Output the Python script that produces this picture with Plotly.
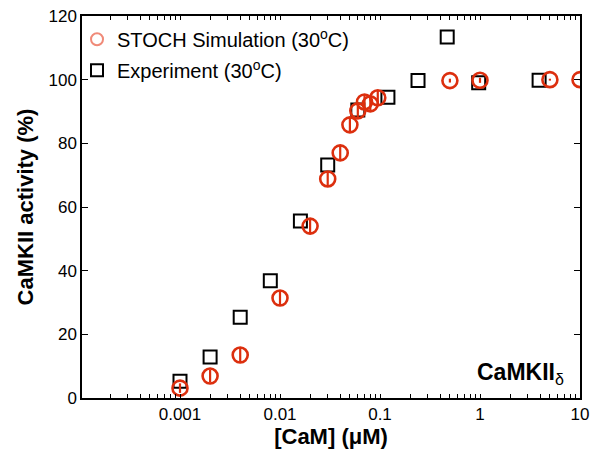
import plotly.graph_objects as go

# STOCH simulation (30 C)
sim_x = [0.001, 0.002, 0.004, 0.01, 0.02, 0.03, 0.04, 0.05, 0.06, 0.07, 0.08, 0.095, 0.5, 1, 5, 10]
sim_y = [3.1, 6.9, 13.5, 31.4, 54.0, 68.8, 77.0, 85.8, 90.2, 93.0, 92.4, 94.3, 99.7, 99.8, 100, 100]
sim_err = [1.5, 2.0, 2.2, 2.3, 2.3, 2.3, 2.3, 2.3, 2.3, 2.3, 2.3, 2.3, 0.6, 0.8, 0.3, 0.2]

# Experiment (30 C)
exp_x = [0.001, 0.002, 0.004, 0.008, 0.016, 0.03, 0.06, 0.12, 0.24, 0.47, 0.97, 3.9]
exp_y = [5.3, 12.9, 25.4, 36.8, 55.6, 73.2, 90.5, 94.5, 99.7, 113.4, 99.0, 99.8]

# axis ticks (majors labelled, minors unlabelled)
major_ticks = [0.001, 0.01, 0.1, 1, 10]
major_text = ["0.001", "0.01", "0.1", "1", "10"]
minor_ticks = [m * d for d in [0.0001, 0.001, 0.01, 0.1, 1] for m in range(2, 10)]
all_ticks = major_ticks + minor_ticks
all_text = major_text + [""] * len(minor_ticks)

RED = "#dc2f0e"
FONT = "Liberation Sans, Arial"

fig = go.Figure()
# legend-only entries
fig.add_trace(go.Scatter(x=[None], y=[None], mode="markers", name="STOCH Simulation (30<sup>o</sup>C)",
                         legendgroup="a",
                         marker=dict(symbol="circle-open", size=16, color="#f08a78", line=dict(width=1.2))))
fig.add_trace(go.Scatter(x=[None], y=[None], mode="markers", name="Experiment (30<sup>o</sup>C)",
                         legendgroup="b",
                         marker=dict(symbol="square-open", size=12, color="black", line=dict(width=1.6))))

fig.add_trace(go.Scatter(x=exp_x, y=exp_y, mode="markers", showlegend=False,
                         marker=dict(symbol="square-open", size=13, color="black", line=dict(width=2))))
fig.add_trace(go.Scatter(x=sim_x, y=sim_y, mode="markers", showlegend=False,
                         error_y=dict(type="data", array=sim_err, color=RED, thickness=2.2, width=0),
                         marker=dict(symbol="circle-open", size=15, color=RED, line=dict(width=2.6))))

axis_common = dict(showline=True, linecolor="black", linewidth=1.5, mirror="ticks",
                   ticks="inside", tickcolor="black", tickwidth=1, showgrid=False, zeroline=False,
                   automargin=False,
                   tickfont=dict(family=FONT, size=17, color="black"))

fig.update_xaxes(type="log", range=[-3.98, 1.0], tickmode="array", tickvals=all_ticks,
                 ticktext=all_text, ticklen=4,
                 title=dict(text="<b>[CaM] (μM)</b>", font=dict(family=FONT, size=22, color="black"), standoff=2),
                 **axis_common)
fig.update_yaxes(range=[0, 120], dtick=20, ticklen=6,
                 title=dict(text="<b>CaMKII activity (%)</b>", font=dict(family=FONT, size=22, color="black"), standoff=9),
                 **axis_common)

fig.add_annotation(x=0.972, y=0.02, xref="paper", yref="paper", xanchor="right", yanchor="bottom",
                   text="<b>CaMKII</b><sub>δ</sub>", showarrow=False,
                   font=dict(family=FONT, size=23, color="black"))

fig.update_layout(width=603, height=451, margin=dict(l=82, r=23, t=16, b=53),
                  plot_bgcolor="white", paper_bgcolor="white",
                  legend=dict(x=-0.01, y=0.99, xanchor="left", yanchor="top", bgcolor="rgba(0,0,0,0)",
                              font=dict(family=FONT, size=20, color="black"),
                              tracegroupgap=2, itemsizing="constant"))

fig.write_html("out.html")
